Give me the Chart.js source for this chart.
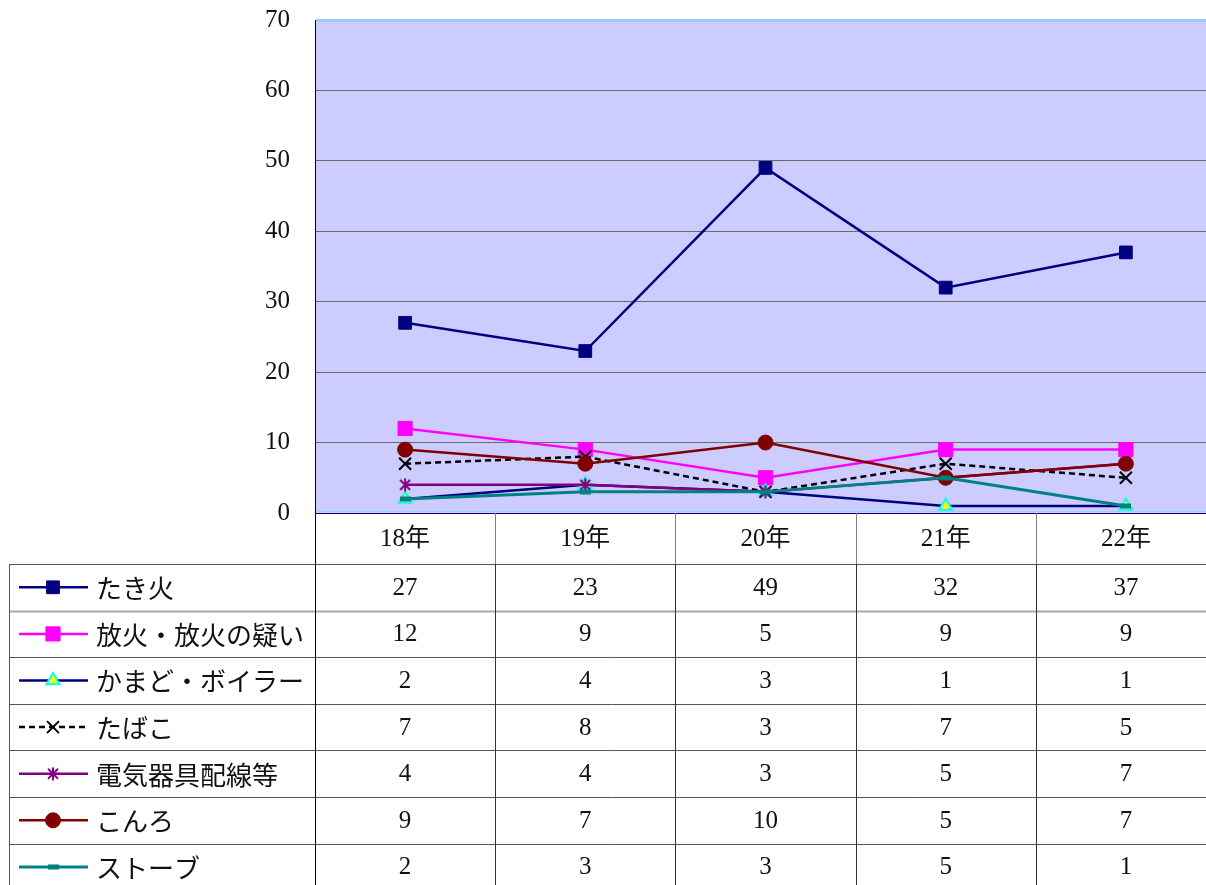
<!DOCTYPE html>
<html>
<head>
<meta charset="utf-8">
<script src="https://cdn.jsdelivr.net/npm/chart.js@4/dist/chart.umd.min.js"></script>
<style>
html,body{margin:0;padding:0;background:#fff;overflow:hidden;}
#wrap{width:1206px;height:885px;position:relative;overflow:hidden;}
</style>
</head>
<body>
<div id="wrap"><canvas id="c" width="1216" height="885"></canvas></div>
<script>
// ---- data ----
const categories = ['18年', '19年', '20年', '21年', '22年'];
const seriesNames = ['たき火', '放火・放火の疑い', 'かまど・ボイラー', 'たばこ', '電気器具配線等', 'こんろ', 'ストーブ'];
const takibi   = [27, 23, 49, 32, 37];
const houka    = [12, 9, 5, 9, 9];
const kamado   = [2, 4, 3, 1, 1];
const tabako   = [7, 8, 3, 7, 5];
const denki    = [4, 4, 3, 5, 7];
const konro    = [9, 7, 10, 5, 7];
const stove    = [2, 3, 3, 5, 1];
const yTicks   = [0, 10, 20, 30, 40, 50, 60, 70];

const serif = "'Liberation Serif', 'Noto Sans CJK JP', serif";
const jp = "'Noto Sans CJK JP', sans-serif";

// custom markers
function starMarker(){
  const c = document.createElement('canvas'); c.width = 14; c.height = 14;
  const g = c.getContext('2d');
  g.strokeStyle = '#800080'; g.lineWidth = 2;
  g.beginPath();
  g.moveTo(2,2); g.lineTo(12,12);
  g.moveTo(12,2); g.lineTo(2,12);
  g.moveTo(7,0.5); g.lineTo(7,13.5);
  g.stroke();
  return c;
}
function dashMarker(){
  const c = document.createElement('canvas'); c.width = 11; c.height = 6;
  const g = c.getContext('2d');
  g.fillStyle = '#008080'; g.fillRect(0,0.5,11,5);
  return c;
}
const starImg = starMarker();
const dashImg = dashMarker();

const seriesValues = [takibi, houka, kamado, tabako, denki, konro, stove];
const styles = [
  {borderColor:'#000080', backgroundColor:'#000080', pointStyle:'rect', pointRadius:9, pointBorderWidth:1, borderWidth:2.5},
  {borderColor:'#FF00FF', backgroundColor:'#FF00FF', pointStyle:'rect', pointRadius:10, pointBorderWidth:1, borderWidth:2.5},
  {borderColor:'#000080', backgroundColor:'#FFFF00', pointBorderColor:'#00FFFF', pointStyle:'triangle', pointRadius:7.5, pointBorderWidth:2, borderWidth:2.5},
  {borderColor:'#000000', backgroundColor:'#000000', pointStyle:'crossRot', pointRadius:8.5, pointBorderWidth:2, borderWidth:2.5, borderDash:[6,4]},
  {borderColor:'#800080', backgroundColor:'#800080', pointStyle:starImg, pointRadius:7, pointBorderWidth:2, borderWidth:2.5},
  {borderColor:'#800000', backgroundColor:'#800000', pointStyle:'circle', pointRadius:7.5, pointBorderWidth:1, borderWidth:2.5},
  {borderColor:'#008080', backgroundColor:'#008080', pointStyle:dashImg, pointRadius:5, pointBorderWidth:1, borderWidth:3}
];

const datasets = seriesNames.map((name, i) => Object.assign({
  label: name,
  data: seriesValues[i],
  tension: 0,
  fill: false,
  order: seriesNames.length - i,
  pointHoverRadius: styles[i].pointRadius
}, styles[i]));

function drawMarker(ctx, st, x, y){
  ctx.save();
  if (typeof st.pointStyle !== 'string') {
    const img = st.pointStyle;
    ctx.drawImage(img, x - img.width/2, y - img.height/2);
    ctx.restore(); return;
  }
  ctx.fillStyle = st.backgroundColor;
  ctx.strokeStyle = st.pointBorderColor || st.borderColor;
  ctx.lineWidth = st.pointBorderWidth;
  Chart.helpers.drawPoint(ctx, {pointStyle: st.pointStyle, radius: st.pointRadius, borderWidth: st.pointBorderWidth, rotation: 0}, x, y);
  ctx.restore();
}

const tablePlugin = {
  id: 'tablePlugin',
  beforeDraw(chart){
    const {ctx, chartArea: a} = chart;
    ctx.save();
    ctx.fillStyle = '#CCCCFF';
    ctx.fillRect(a.left, a.top, a.right - a.left, a.bottom - a.top);
    ctx.restore();
  },
  afterDraw(chart){
    const {ctx, chartArea: a} = chart;
    const n = categories.length;
    const colW = (a.right - a.left) / n;
    const headTop = a.bottom, headBot = a.bottom + 51;
    const rowH = 46.6;
    const tableLeft = 9;
    const bottom = chart.height;
    ctx.save();
    // bottom edge of plot
    ctx.strokeStyle = '#99CCFF'; ctx.lineWidth = 1;
    ctx.beginPath(); ctx.moveTo(a.left, a.bottom - 1.5); ctx.lineTo(a.right, a.bottom - 1.5); ctx.stroke();
    ctx.strokeStyle = '#000080'; ctx.lineWidth = 1;
    ctx.beginPath(); ctx.moveTo(a.left, a.bottom + 0.5); ctx.lineTo(a.right, a.bottom + 0.5); ctx.stroke();

    // header vertical lines
    ctx.strokeStyle = '#808080'; ctx.lineWidth = 1;
    for (let i = 1; i < n; i++) {
      const x = Math.round(a.left + colW * i) + 0.5;
      ctx.beginPath(); ctx.moveTo(x, headTop); ctx.lineTo(x, headBot); ctx.stroke();
    }
    // horizontal lines
    for (let r = 0; r <= seriesNames.length; r++) {
      const y = Math.round(headBot + rowH * r) + 0.5;
      if (y > bottom) break;
      if (r === 1) { ctx.strokeStyle = '#AAAAAA'; ctx.lineWidth = 2; }
      else { ctx.strokeStyle = '#555555'; ctx.lineWidth = 1; }
      ctx.beginPath(); ctx.moveTo(tableLeft, y); ctx.lineTo(a.right, y); ctx.stroke();
    }
    // vertical lines in body
    ctx.strokeStyle = '#555555'; ctx.lineWidth = 1;
    ctx.beginPath(); ctx.moveTo(tableLeft + 0.5, headBot); ctx.lineTo(tableLeft + 0.5, bottom); ctx.stroke();
    ctx.strokeStyle = '#000000';
    ctx.beginPath(); ctx.moveTo(a.left + 0.5, a.top); ctx.lineTo(a.left + 0.5, bottom); ctx.stroke();
    for (let i = 1; i < n; i++) {
      const x = Math.round(a.left + colW * i) + 0.5;
      ctx.strokeStyle = '#333333';
      ctx.beginPath(); ctx.moveTo(x, headBot); ctx.lineTo(x, bottom); ctx.stroke();
    }
    // header text
    ctx.fillStyle = '#111';
    ctx.textAlign = 'center'; ctx.textBaseline = 'middle';
    ctx.font = '25px ' + serif;
    categories.forEach((c, i) => {
      ctx.fillText(c, a.left + colW * (i + 0.5), (headTop + headBot) / 2 + 1);
    });
    // rows
    seriesNames.forEach((name, r) => {
      const yc = headBot + rowH * r + rowH / 2;
      const st = styles[r];
      ctx.save();
      ctx.strokeStyle = st.borderColor; ctx.lineWidth = st.borderWidth;
      ctx.setLineDash(st.borderDash || []);
      ctx.beginPath(); ctx.moveTo(19, yc); ctx.lineTo(88, yc); ctx.stroke();
      ctx.restore();
      drawMarker(ctx, st, 53, yc);
      ctx.fillStyle = '#111';
      ctx.textAlign = 'left';
      ctx.font = '26px ' + jp;
      ctx.fillText(name, 96, yc + 1);
      ctx.textAlign = 'center';
      ctx.font = '25px ' + serif;
      seriesValues[r].forEach((v, i) => {
        ctx.fillText(String(v), a.left + colW * (i + 0.5), yc + 1);
      });
    });
    ctx.restore();
  }
};

new Chart(document.getElementById('c'), {
  type: 'line',
  data: { labels: categories, datasets },
  options: {
    responsive: false,
    animation: false,
    events: [],
    layout: { autoPadding: false, padding: { top: 20, right: 0, bottom: 372, left: 0 } },
    plugins: { legend: { display: false }, tooltip: { enabled: false } },
    scales: {
      x: { display: false, offset: true, ticks: { display: false } },
      y: {
        min: 0, max: 70,
        afterFit(scale){ scale.width = 315; },
        afterBuildTicks(scale){ scale.ticks = yTicks.map(v => ({value: v})); },
        border: { display: true, color: '#000000', width: 1 },
        grid: {
          drawTicks: true,
          tickLength: 25,
          tickColor: 'rgba(0,0,0,0)',
          color(ctx){ const v = ctx.tick && ctx.tick.value; return v === 70 ? '#99CCFF' : (v === 0 ? 'rgba(0,0,0,0)' : '#6a6a6a'); },
          lineWidth(ctx){ return ctx.tick && ctx.tick.value === 70 ? 3 : 1; }
        },
        ticks: {
          padding: 0,
          color: '#111',
          font: { family: serif, size: 25 }
        }
      }
    }
  },
  plugins: [tablePlugin]
});
</script>
</body>
</html>
